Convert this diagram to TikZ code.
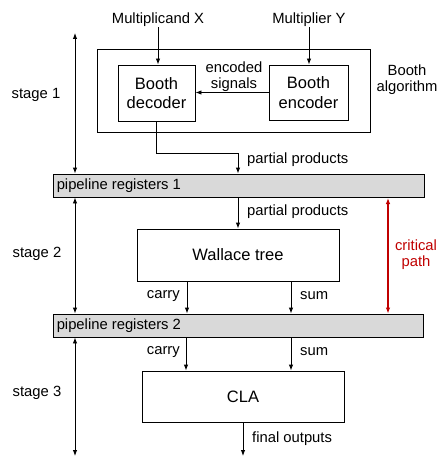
\documentclass[tikz,border=0pt]{standalone}
\usepackage{fontspec}
\setmainfont{Liberation Sans}
\usetikzlibrary{arrows.meta,calc}
\definecolor{critred}{RGB}{192,0,0}
\definecolor{reggray}{RGB}{217,217,217}

\tikzset{
  >={Latex[length=6pt,width=4.5pt]},
  wire/.style={line width=0.9pt},
  unit/.style={draw, line width=0.9pt, align=center, font=\fontsize{16.5}{19.5}\selectfont},
  regbar/.style={draw, line width=0.9pt, fill=reggray, minimum width=371, minimum height=23},
  lbl/.style={font=\fontsize{14.8}{17}\selectfont, inner sep=0pt, align=center}
}

\begin{document}
\begin{tikzpicture}[x=1pt, y=-1pt]
	%%%%% frame %%%%%
	\useasboundingbox (0,0) rectangle (439,457);
	\clip (0,0) rectangle (439,457);
	
	%%%%% stage 1 %%%%%
	\node[draw, line width=0.9pt, minimum width=273, minimum height=83] (booth) at (233.5, 90.5) {};
	\node[unit, minimum width=77, minimum height=56] (dec) at (156.5, 93) {Booth\\decoder};
	\node[unit, minimum width=79, minimum height=55] (enc) at (308.5, 92.5) {Booth\\encoder};
	\node[lbl] (mcand) at (158, 20) {Multiplicand X};
	\node[lbl] (mplier) at (309, 20) {Multiplier Y};
	\node[lbl] (enclbl) at (234, 77) {encoded\\[-1pt]signals};
	\node[lbl] (algo) at (407, 80) {Booth\\[-1pt]algorithm};
	
	%%%%% registers and units %%%%%
	\node[regbar] (reg1) at (238.5, 185.5) {};
	\node[lbl, anchor=west] at (reg1.west) [xshift=4pt] {pipeline registers 1};
	\node[unit, minimum width=202, minimum height=52] (wallace) at (238, 255) {Wallace tree};
	\node[regbar, minimum width=370] (reg2) at (238, 325.5) {};
	\node[lbl, anchor=west] at (reg2.west) [xshift=4pt] {pipeline registers 2};
	\node[unit, minimum width=202, minimum height=51] (cla) at (243, 396.5) {CLA};
	
	%%%%% stage labels %%%%%
	\node[lbl] (st1) at (36, 95) {stage 1};
	\node[lbl] (st2) at (37, 254) {stage 2};
	\node[lbl] (st3) at (37, 393) {stage 3};
	\coordinate (s1top) at (75, 33);
	\coordinate (s3bot) at (75, 456);
	\coordinate (outbot) at (243, 456);
	
	%%%%% connectors %%%%%
	\draw[wire, ->] (mcand.south) -- (mcand.south |- dec.north);
	\draw[wire, ->] (mplier.south) -- (mplier.south |- enc.north);
	\draw[wire, ->] (enc.west) -- (enc.west -| dec.east);
	\draw[wire, ->] (dec.south) -- ++(0,32) -| (wallace.north |- reg1.north);
	\draw[wire, ->] (wallace.north |- reg1.south) -- (wallace.north);
	\draw[wire, ->] (187, 281) coordinate (wc) -- (wc |- reg2.north);
	\draw[wire, ->] (291, 281) coordinate (ws) -- (ws |- reg2.north);
	\draw[wire, ->] (186, 337) coordinate (cc) -- (cc |- cla.north);
	\draw[wire, ->] (291, 337) coordinate (cs) -- (cs |- cla.north);
	\draw[wire, ->] (cla.south) -- (outbot);
	
	\draw[wire, <->] (s1top) -- (s1top |- reg1.north);
	\draw[wire, <->] (s1top |- reg1.south) -- (s1top |- reg2.north);
	\draw[wire, <->] (s1top |- reg2.south) -- (s3bot);
	\draw[wire, <->, critred, line width=1.1pt] (388, 198) coordinate (cp) -- (cp |- reg2.north);
	
	%%%%% connector labels %%%%%
	\node[lbl, anchor=west] at (247, 160) {partial products};
	\node[lbl, anchor=west] at (247, 212) {partial products};
	\node[lbl, anchor=east] at (180, 296) {carry};
	\node[lbl, anchor=west] at (300, 296) {sum};
	\node[lbl, anchor=east] at (180, 352) {carry};
	\node[lbl, anchor=west] at (300, 352) {sum};
	\node[lbl, anchor=west] at (252, 439) {final outputs};
	\node[lbl, text=critred] at (416, 254.5) {critical\\[-1pt]path};
\end{tikzpicture}
\end{document}
